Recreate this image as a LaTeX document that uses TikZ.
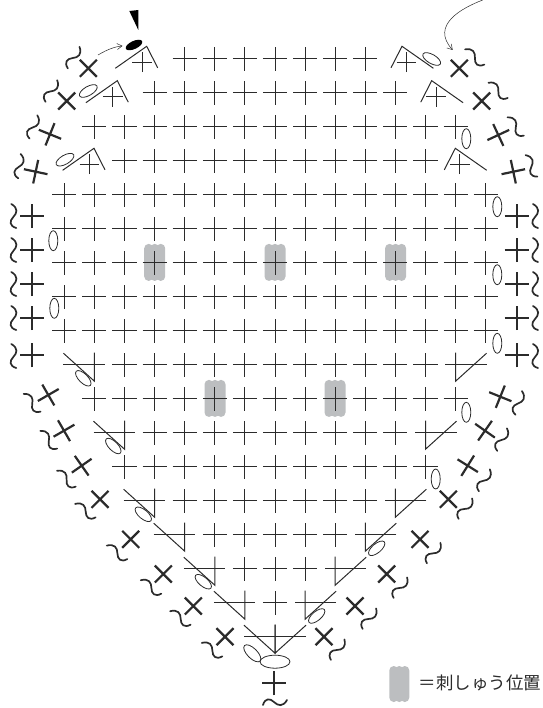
\documentclass[tikz,border=0pt]{standalone}
\usepackage{fontspec}
\newfontfamily\jpfont{Noto Sans CJK JP}
\usetikzlibrary{shapes.misc,shapes.geometric,arrows.meta}
\definecolor{patchgray}{HTML}{BCBEC0}
\definecolor{inkgray}{HTML}{2B2B2B}
\tikzset{
  stitch/.style={cross out,draw=inkgray,line width=1pt,rotate=45,minimum size=17pt,inner sep=0pt,outer sep=0pt},
  smallstitch/.style={stitch,minimum size=14pt},
  boldstitch/.style={cross out,draw=inkgray,line width=2.2pt,minimum size=17pt,inner sep=0pt,outer sep=0pt,rotate=45+#1},
  loopst/.style={ellipse,draw=inkgray,line width=0.8pt,minimum width=20pt,minimum height=9pt,inner sep=0pt,rotate=#1},
  patch/.style={draw=none,fill=patchgray,rounded corners=4.4pt,minimum width=9pt,minimum height=#1,inner sep=0pt},
  wave/.style={inkgray,line width=1.7pt,line cap=round},
  edge/.style={inkgray,line width=1pt},
  pointer/.style={-{Straight Barb[length=5pt,width=6pt]},inkgray,line width=0.5pt}
}
\begin{document}
\begin{tikzpicture}[x=1pt,y=-1pt]
\useasboundingbox (0,0) rectangle (542,708);

% Embroidery patches
\foreach \i/\x/\y in {1/154.7/262.4,2/275/262.4,3/395.6/262.4,4/215/398.4,5/335/398.4}
    \foreach \j in {-6,0,6}
        \node[patch=37pt] (patch\i\j) at (\x+\j,\y) {};
\foreach \j in {-5.5,0,5.5}
    \node[patch=36pt] (key\j) at (399.3+\j,684) {};
\node[anchor=west,font=\jpfont\fontsize{17.5}{17.5}\selectfont,text=inkgray,inner sep=0pt] (legend) at (418.5,683) {＝刺しゅう位置};

% Plain rows
\foreach \r/\a/\b in {0/-3/3,1/-4/4,2/-6/6,3/-5/5,4/-7/7,5/-7/7,6/-7/7,7/-7/7,8/-7/7,9/-5/5,10/-6/6,11/-4/4,12/-5/5,13/-3/3,14/-2/2,15/-1/1,16/0/0}
    \foreach \c in {\a,...,\b}
        \node[stitch] (n\r c\c) at ({275+30.1*\c},{58.7+34*\r}) {};

% Decreases
\foreach \r/\c/\s in {9/-6/-1,9/6/1,11/-5/-1,11/5/1,13/-4/-1,13/4/1,14/-3/-1,14/3/1,15/-2/-1,15/2/1,16/-1/-1,16/1/1,17/0/-1,17/0/1} {
    \pgfmathsetmacro\xc{275+30.1*\c}
    \pgfmathsetmacro\yc{58.7+34*\r}
    \draw[edge] (\xc,\yc-12) -- (\xc,\yc+16.5) -- (\xc+31*\s,\yc-11.5);
    \draw[edge] (\xc+31*\s,\yc) -- (\xc-10.5*\s,\yc);
}

% Increases
\foreach \i/\ax/\ay/\s in {1/146.7/46.3/1,2/117.3/80.7/1,3/94/148.3/1,4/402/46.3/-1,5/431.7/80.7/-1,6/455.3/148.3/-1} {
    \draw[edge] (\ax-31.4*\s,\ay+22) -- (\ax,\ay) -- (\ax+11*\s,\ay+21.5);
    \node[smallstitch] (inc\i) at (\ax-4.5*\s,\ay+16) {};
}

% Chain loops
\foreach \i/\x/\y/\a in {1/466.3/138.7/90,2/497.3/206.7/90,3/53.3/240.7/90,4/497.3/274.7/90,5/54.3/308.3/90,6/497.3/343.3/90,7/466.3/412.3/90,8/435.7/479/90,9/431.7/59/-30,10/88.3/91/30,11/65/159.7/30,12/83.3/378.3/-45,13/113.3/446/-45,14/143.3/514.3/-40,15/203.3/581.7/-40,16/376.7/548.3/40,17/316.7/616/40}
    \node[loopst=\a] (loop\i) at (\x,\y) {};
\node[loopst=0,minimum width=30pt,minimum height=13pt] (loopa) at (275,661.7) {};
\node[loopst=-45,minimum width=22pt,minimum height=10pt] (loopb) at (252.3,653.3) {};

% Edging, left side
\foreach \x/\y/\a/\tx/\ty/\ta [count=\i] in {88.3/68.3/45/73.3/57.3/-40,66.7/101/45/51/90.7/-40,50/134.3/-22/33/126.7/-30,35.7/171.7/-12/19/166/-17,32.3/216/0/13.3/216/0,32.3/250/0/13.3/250/0,32.3/284/0/13.3/284/0,32.3/318/0/13.3/318/0,32.3/355.3/0/13.3/356/0,48.3/395/30/31.7/403/32,64/430.7/30/48.3/440/32,81.7/465.7/35/66/479/38,100/499.3/45/85/511/45,130.7/539.3/45/116.7/552.7/45,163.3/574/45/150.7/587.3/45,193.3/606/45/180/618.3/45,225/636.7/45/211.7/650/45} {
    \node[boldstitch=\a] (ol\i) at (\x,\y) {};
    \draw[wave,shift={(\tx,\ty)},rotate=\ta] (-2,-12) .. controls (5,-8) and (4,-3) .. (0,1) .. controls (-4,5) and (-4,10) .. (3,12);
}

% Edging, right side
\foreach \x/\y/\a/\tx/\ty/\ta [count=\i] in {459.3/68.3/45/474.3/57.3/40,481.7/101/45/497.7/90.7/40,498.3/135/25/515.3/126.7/30,513.3/171.7/12/531/166/17,516.7/216/0/535/216/0,516.7/250/0/535/250/0,516.7/284/0/535/284/0,516.7/318/0/535/318/0,516.7/355.3/0/535/356/0,500.3/396.7/-22/518.3/402.7/-27,485/430.7/-35/501.7/439.3/-35,467.7/465.7/-32/484/480/-38,448.3/499.3/-45/465/508.3/-45,420/539.3/-45/433.3/552.7/-45,386.7/574/-45/400/587.3/-45,355/606/-45/369/618.3/-45,324/636.7/-45/337.3/649.3/-45} {
    \node[boldstitch=\a] (or\i) at (\x,\y) {};
    \draw[wave,shift={(\tx,\ty)},rotate=\ta] (-2,-12) .. controls (5,-8) and (4,-3) .. (0,1) .. controls (-4,5) and (-4,10) .. (3,12);
}

% Bottom edging
\node[boldstitch=0] (ob) at (274.3,683.3) {};
\draw[wave,shift={(275,702)},rotate=-90] (-2,-12) .. controls (5,-8) and (4,-3) .. (0,1) .. controls (-4,5) and (-4,10) .. (3,12);

% Start of the edging
\fill[black] (129.3,11) -- (138.3,10) -- (138.3,30) -- cycle;
\node[ellipse,fill=black,minimum width=18pt,minimum height=8pt,inner sep=0pt,rotate=25] (slip) at (134,45) {};
\coordinate (starta) at (98,55);
\coordinate (startb) at (482.7,0);
\coordinate (tipb) at (452.7,50);
\draw[pointer,shorten >=4pt] (starta) to[bend left=12] (slip);
\draw[pointer] (startb) .. controls (462,8) and (430,25) .. (tipb);
\end{tikzpicture}
\end{document}
